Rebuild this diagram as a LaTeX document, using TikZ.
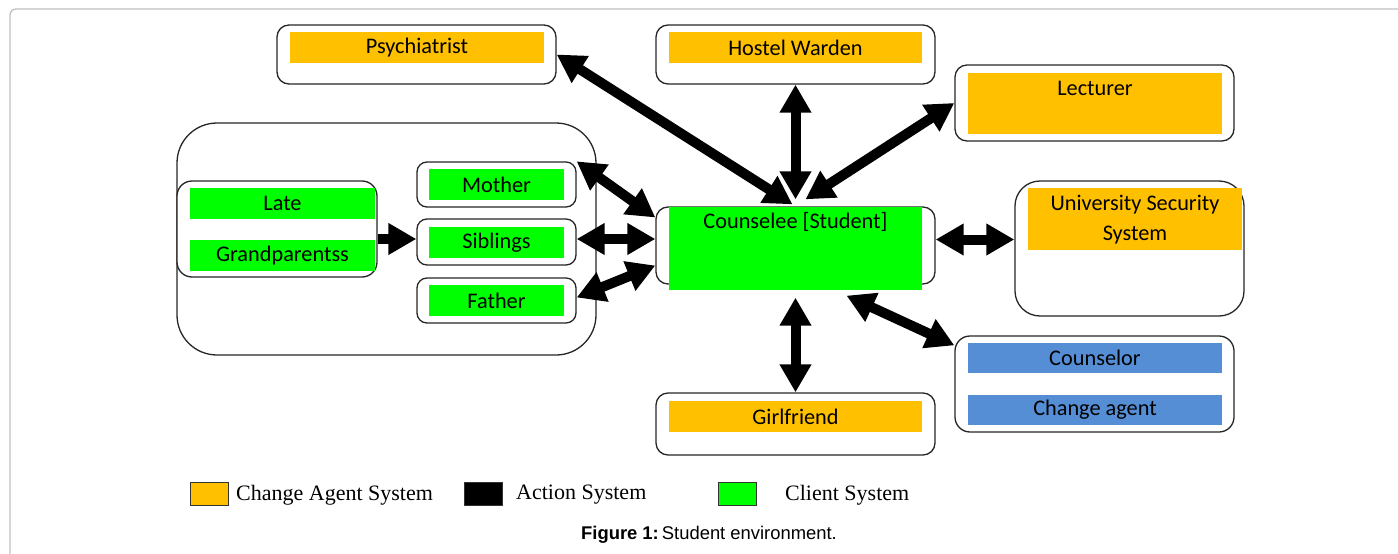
\documentclass[tikz,border=0pt]{standalone}
\usepackage{fontspec}
\setmainfont{Carlito}
\newfontfamily\legfont{Liberation Serif}
\newfontfamily\capfont{Liberation Sans}
\usetikzlibrary{arrows.meta}
\definecolor{agent}{HTML}{FFC000}
\definecolor{client}{HTML}{00FF00}
\definecolor{counsel}{HTML}{558ED5}
\definecolor{framegray}{HTML}{C0C0C0}
\begin{document}
\begin{tikzpicture}[x=1pt,y=-1pt,font=\fontsize{22.3}{26}\selectfont,
  box/.style={draw=black!85,line width=1.3pt,fill=white,rounded corners=#1,inner sep=0pt},
  box/.default=10pt,
  bar/.style={fill=#1,draw=none,inner sep=0pt},
  txt/.style={inner sep=0pt,align=center},
  dbl/.style={line width=10pt,{Triangle[width=30pt,length=28pt]}-{Triangle[width=30pt,length=28pt]}},
  sgl/.style={line width=10pt,-{Triangle[width=30pt,length=28pt]}},
  legsq/.style={draw=black!80,line width=0.8pt,minimum width=38pt,minimum height=23pt,inner sep=0pt},
  legtxt/.style={anchor=west,inner sep=0pt,font=\legfont\fontsize{22}{26}\selectfont}]
\path[use as bounding box] (0,0) rectangle (1398,554);
\clip (0,0) rectangle (1398,554);
\draw[framegray,line width=1.3pt,rounded corners=6pt] (10,600) -- (10,9) -- (1420,9);

% outer boxes
\node[box=12pt,minimum width=279pt,minimum height=59pt] (psy) at (416.5,54.5) {};
\node[box=12pt,minimum width=279pt,minimum height=59pt] (hw) at (795.5,54.5) {};
\node[box=12pt,minimum width=279pt,minimum height=76pt] (lec) at (1094.5,103) {};
\node[box=40pt,minimum width=419pt,minimum height=232pt] (fam) at (386.5,239) {};
\node[box=15pt,minimum width=200pt,minimum height=96pt] (late) at (277,229) {};
\node[box=10pt,minimum width=159pt,minimum height=45pt] (mom) at (496.5,184.5) {};
\node[box=10pt,minimum width=159pt,minimum height=46pt] (sib) at (496.5,242) {};
\node[box=10pt,minimum width=159pt,minimum height=45pt] (dad) at (496.5,300.5) {};
\node[box=12pt,minimum width=279pt,minimum height=77pt] (stu) at (795.5,245.5) {};
\node[box=25pt,minimum width=229pt,minimum height=135pt] (uni) at (1129.5,248.5) {};
\node[box=15pt,minimum width=279pt,minimum height=96pt] (cou) at (1094.5,384) {};
\node[box=12pt,minimum width=279pt,minimum height=62pt] (gf) at (795.5,424) {};

% coloured bars with labels
\node[bar=agent,minimum width=254pt,minimum height=31pt] (psyL) at (417,47.5) {Psychiatrist};
\node[bar=agent,minimum width=253pt,minimum height=31pt] (hwL) at (795.5,47.5) {Hostel Warden};
\node[bar=agent,minimum width=254pt,minimum height=61pt] (lecB) at (1095,103.5) {};
\node[txt] (lecL) at (1095,88) {Lecturer};
\node[bar=client,minimum width=185pt,minimum height=31pt] (lateL) at (282.5,203.5) {Late};
\node[bar=client,minimum width=185pt,minimum height=31pt] (grL) at (282.5,255.5) {Grandparentss};
\node[bar=client,minimum width=135pt,minimum height=31pt] (momL) at (496.5,184.5) {Mother};
\node[bar=client,minimum width=135pt,minimum height=31pt] (sibL) at (496.5,242.5) {Siblings};
\node[bar=client,minimum width=135pt,minimum height=31pt] (dadL) at (496.5,300.5) {Father};
\node[bar=client,minimum width=253pt,minimum height=83pt] (stuB) at (795.5,248.5) {};
\node[txt] (stuL) at (795.5,222) {Counselee [Student]};
\node[bar=agent,minimum width=214pt,minimum height=62pt] (uniB) at (1135,219) {};
\node[txt] (uniL) at (1135,219.5) {University Security\\[4pt]System};
\node[bar=counsel,minimum width=254pt,minimum height=30pt] (couL) at (1095,358) {Counselor};
\node[bar=counsel,minimum width=254pt,minimum height=30pt] (chL) at (1095,410) {Change agent};
\node[bar=agent,minimum width=253pt,minimum height=31pt] (gfL) at (795.5,416.5) {Girlfriend};

% connectors
\draw[dbl] (psy.east) -- ([xshift=-3pt,yshift=2pt]stu.north);
\draw[dbl] (hw.south) -- ([yshift=7pt]stu.north);
\draw[dbl] (lec.west) -- ([xshift=10pt,yshift=7pt]stu.north);
\draw[dbl] (mom.north east) -- ([yshift=28pt]stu.west);
\draw[dbl] ([yshift=3pt]sib.east) -- ([yshift=3pt]sib.east -| stu.west);
\draw[dbl] ([yshift=3pt]dad.east) -- ([yshift=-20pt]stu.west);
\draw[dbl] ([yshift=6pt]stu.east) -- ([yshift=6pt]stu.east -| uni.west);
\draw[dbl] ([yshift=-13pt]stu.south) -- (gf.north);
\draw[dbl] ([xshift=51pt,yshift=-11pt]stu.south) -- ([yshift=-10pt]cou.north west);
\draw[sgl] ([yshift=3pt]late.east |- sib.west) -- ([yshift=3pt]sib.west);

% legend
\node[legsq,fill=agent] (lg1) at (209,493.5) {};
\node[legtxt] (lt1) at (236,495) {Change Agent System};
\node[legsq,fill=black] (lg2) at (483,493.5) {};
\node[legtxt] (lt2) at (516,495) {Action System};
\node[legsq,fill=client] (lg3) at (737,493.5) {};
\node[legtxt] (lt3) at (785,495) {Client System};

% caption
\node[inner sep=0pt,font=\capfont\fontsize{18.4}{22}\selectfont] (cap) at (709,535) {\textbf{Figure 1:}\,Student environment.};
\end{tikzpicture}
\end{document}
